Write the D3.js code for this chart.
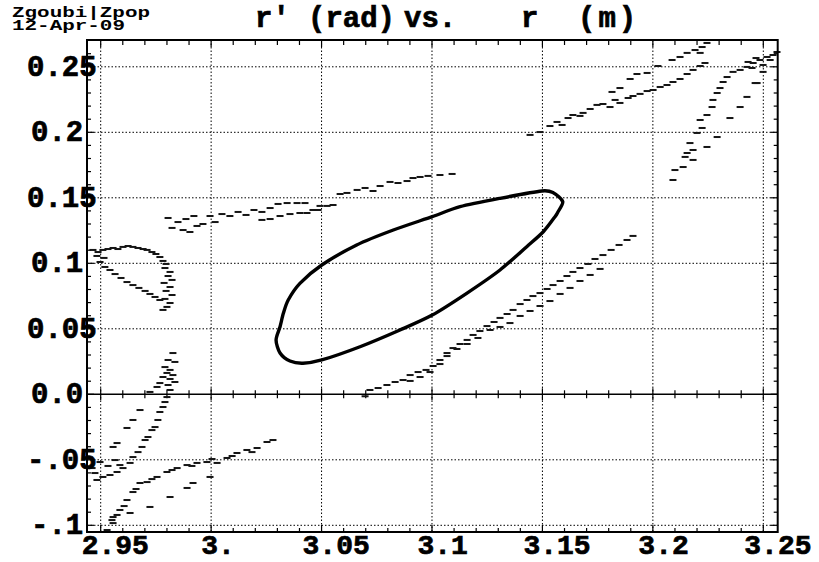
<!DOCTYPE html>
<html>
<head>
<meta charset="utf-8">
<script src="https://cdn.jsdelivr.net/npm/d3@7/dist/d3.min.js"></script>
<style>
  body { margin: 0; background: #fff; }
  svg text { font-family: "Liberation Mono", "Courier New", monospace; font-weight: bold; fill: #000; }
  svg text.heavy { stroke: #000; stroke-width: 0.7; }
</style>
</head>
<body>
<div class="canvas"></div>
<script>
// r (m) and r' (rad) of the closed orbit ellipse
const ellipseR  = [3.0294,3.0312,3.0327,3.0349,3.0402,3.0501,3.0659,3.0825,3.1001,3.1127,3.1308,3.1497,3.1549,3.1592,3.1570,3.1557,3.1504,3.1429,3.1308,3.1157,3.1001,3.0855,3.0674,3.0501,3.0416,3.0357,3.0312];
const ellipseRp = [0.0415,0.0516,0.0618,0.0720,0.0847,0.0987,0.1140,0.1254,0.1356,0.1432,0.1496,0.1552,0.1539,0.1470,0.1392,0.1356,0.1241,0.1127,0.0949,0.0771,0.0605,0.0491,0.0363,0.0262,0.0237,0.0254,0.0315];

// scattered particles, [r, r']
const bandUpperLeft = [[2.9805,0.1346],[2.9823,0.1270],[2.9850,0.1315],[2.9873,0.1254],[2.9886,0.1338],[2.9904,0.1239],[2.9922,0.1361],[2.9936,0.1285],[2.9963,0.1300],[2.9995,0.1361],[3.0018,0.1315],[3.0049,0.1376],[3.0085,0.1361],[3.0122,0.1392],[3.0158,0.1369],[3.0194,0.1407],[3.0230,0.1392],[3.0267,0.1422],[3.0303,0.1453],[3.0344,0.1460],[3.0389,0.1460],[3.0425,0.1460],[3.0461,0.1407],[3.0493,0.1438],[3.0525,0.1438],[3.0552,0.1445],[3.0584,0.1529],[3.0615,0.1537],[3.0661,0.1560],[3.0697,0.1575],[3.0733,0.1552],[3.0765,0.1590],[3.0810,0.1621],[3.0846,0.1613],[3.0887,0.1628],[3.0914,0.1651],[3.0946,0.1659],[3.0982,0.1667],[3.1036,0.1674],[3.1091,0.1682],[3.0230,0.1331],[3.0267,0.1338],[3.0312,0.1361],[3.0357,0.1376],[3.0402,0.1384],[3.0434,0.1384],[3.0484,0.1407]];
const bandLoop = [[2.9465,0.1102],[2.9488,0.1086],[2.9510,0.1102],[2.9533,0.1109],[2.9556,0.1117],[2.9578,0.1109],[2.9601,0.1125],[2.9624,0.1132],[2.9646,0.1125],[2.9669,0.1117],[2.9692,0.1109],[2.9710,0.1102],[2.9732,0.1086],[2.9750,0.1071],[2.9768,0.1048],[2.9782,0.1018],[2.9796,0.0995],[2.9791,0.0964],[2.9814,0.0934],[2.9805,0.0903],[2.9823,0.0873],[2.9787,0.0850],[2.9814,0.0819],[2.9796,0.0789],[2.9823,0.0758],[2.9791,0.0728],[2.9814,0.0697],[2.9800,0.0667],[2.9782,0.0644],[2.9519,0.0972],[2.9542,0.0949],[2.9565,0.0918],[2.9592,0.0888],[2.9619,0.0857],[2.9646,0.0834],[2.9673,0.0812],[2.9701,0.0789],[2.9723,0.0766],[2.9746,0.0743],[2.9768,0.0720],[2.9483,0.1056],[2.9497,0.1010],[2.9515,0.1041]];
const bandLowerLeft = [[2.9827,0.0315],[2.9805,0.0262],[2.9836,0.0247],[2.9791,0.0208],[2.9814,0.0186],[2.9800,0.0163],[2.9827,0.0147],[2.9782,0.0132],[2.9814,0.0117],[2.9836,0.0094],[2.9768,0.0086],[2.9805,0.0071],[2.9755,0.0056],[2.9723,0.0018],[2.9814,0.0033],[2.9800,-0.0021],[2.9791,-0.0059],[2.9782,-0.0097],[2.9768,-0.0135],[2.9759,-0.0196],[2.9746,-0.0250],[2.9732,-0.0273],[2.9714,-0.0326],[2.9701,-0.0349],[2.9687,-0.0402],[2.9669,-0.0441],[2.9646,-0.0479],[2.9633,-0.0524],[2.9601,-0.0563],[2.9574,-0.0593],[2.9542,-0.0616],[2.9510,-0.0631],[2.9483,-0.0654],[2.9474,-0.0601],[2.9678,-0.0120],[2.9646,-0.0196],[2.9619,-0.0257],[2.9574,-0.0372],[2.9556,-0.0402],[2.9497,-0.0517],[2.9533,-0.0547],[2.9461,-0.0563],[2.9565,-0.0502],[2.9587,-0.0540],[2.9529,-0.1036],[2.9556,-0.0983],[2.9574,-0.0921],[2.9587,-0.0883],[2.9619,-0.0807],[2.9646,-0.0746],[2.9678,-0.0677],[2.9710,-0.0670],[2.9755,-0.0631],[2.9800,-0.0593],[2.9846,-0.0563],[2.9891,-0.0540],[2.9936,-0.0524],[2.9981,-0.0517],[3.0027,-0.0524],[3.0072,-0.0486],[3.0117,-0.0448],[3.0162,-0.0425],[3.0208,-0.0410],[3.0253,-0.0364],[3.0280,-0.0349],[2.9551,-0.0960],[2.9606,-0.0853],[2.9660,-0.0723],[2.9732,-0.0647],[2.9823,-0.0578],[2.9913,-0.0547],[3.0004,-0.0494],[3.0095,-0.0471],[3.0185,-0.0441],[2.9556,-0.0937],[2.9633,-0.0906],[2.9723,-0.0860],[2.9814,-0.0784],[2.9891,-0.0715],[2.9918,-0.0677],[2.9995,-0.0631]];
const bandLowerRight = [[3.0719,0.0033],[3.0756,0.0048],[3.0796,0.0071],[3.0833,0.0094],[3.0869,0.0109],[3.0901,0.0147],[3.0937,0.0170],[3.0973,0.0186],[3.1005,0.0216],[3.1036,0.0262],[3.1068,0.0292],[3.1095,0.0353],[3.1127,0.0384],[3.1159,0.0415],[3.1186,0.0453],[3.1217,0.0483],[3.1249,0.0521],[3.1281,0.0552],[3.1308,0.0583],[3.1340,0.0613],[3.1367,0.0644],[3.1399,0.0689],[3.1430,0.0720],[3.1457,0.0750],[3.1489,0.0773],[3.1521,0.0804],[3.1548,0.0834],[3.1580,0.0865],[3.1611,0.0903],[3.1638,0.0934],[3.1670,0.0964],[3.1706,0.0995],[3.1738,0.1033],[3.1774,0.1063],[3.1811,0.1102],[3.1847,0.1140],[3.1883,0.1178],[3.1910,0.1209],[3.0901,0.0102],[3.0946,0.0132],[3.0991,0.0170],[3.1036,0.0231],[3.1068,0.0315],[3.1113,0.0346],[3.1159,0.0384],[3.1208,0.0430],[3.1263,0.0491],[3.1308,0.0514],[3.1353,0.0544],[3.1399,0.0598],[3.1444,0.0636],[3.1489,0.0674],[3.1534,0.0712],[3.1580,0.0766],[3.1625,0.0812],[3.1670,0.0865],[3.1716,0.0911],[3.1761,0.0957],[3.0697,-0.0015]];
const bandUpperRight = [[3.1444,0.1980],[3.1489,0.2002],[3.1534,0.2048],[3.1566,0.2079],[3.1589,0.2056],[3.1616,0.2109],[3.1638,0.2132],[3.1670,0.2125],[3.1684,0.2148],[3.1716,0.2178],[3.1747,0.2209],[3.1774,0.2216],[3.1806,0.2193],[3.1829,0.2247],[3.1851,0.2224],[3.1888,0.2262],[3.1910,0.2277],[3.1942,0.2293],[3.1974,0.2315],[3.2001,0.2323],[3.2033,0.2346],[3.2064,0.2361],[3.2091,0.2384],[3.2123,0.2407],[3.2155,0.2445],[3.2182,0.2476],[3.2214,0.2506],[3.2236,0.2529],[3.1815,0.2308],[3.1851,0.2338],[3.1897,0.2407],[3.1928,0.2445],[3.1974,0.2453],[3.2023,0.2506],[3.2087,0.2552],[3.2123,0.2575],[3.2155,0.2606],[3.2191,0.2628],[3.2214,0.2606],[3.2223,0.2651],[3.2245,0.2682]];
const bandSteep = [[3.2091,0.1636],[3.2100,0.1712],[3.2137,0.1735],[3.2146,0.1812],[3.2155,0.1842],[3.2182,0.1865],[3.2168,0.1918],[3.2200,0.1995],[3.2223,0.2033],[3.2214,0.2094],[3.2245,0.2132],[3.2268,0.2193],[3.2272,0.2247],[3.2291,0.2300],[3.2304,0.2338],[3.2318,0.2384],[3.2336,0.2422],[3.2363,0.2461],[3.2395,0.2476],[3.2426,0.2499],[3.2454,0.2529],[3.2485,0.2552],[3.2517,0.2575],[3.2544,0.2590],[3.2182,0.1789],[3.2245,0.1888],[3.2291,0.1964],[3.2349,0.2109],[3.2395,0.2193],[3.2426,0.2270],[3.2472,0.2376],[3.2499,0.2461],[3.2562,0.2613],[3.2431,0.2537],[3.2449,0.2491],[3.2467,0.2567],[3.2531,0.2552],[3.2499,0.2514],[3.2463,0.2376]];

// axis ticks and labels
const rTicks = [2.95,3.0,3.05,3.1,3.15,3.2,3.25];
const rTickLabels = ["2.95","3.","3.05","3.1","3.15","3.2","3.25"];
const rpTicks = [-0.1,-0.05,0,0.05,0.1,0.15,0.2,0.25];
const rpTickLabels = ["-.1","-.05","0.0","0.05","0.1","0.15","0.2","0.25"];
const rMinor = d3.range(295,326).map(v => v/100);
const rpMinor = d3.range(-10,27).map(v => v/100);

const frame = {left: 87, right: 777.7, top: 40, bottom: 532};

const svg = d3.select('.canvas')
              .append('svg')
              .attr('width', 819)
              .attr('height', 562);

const x = d3.scaleLinear().domain([2.9438, 3.25652]).range([frame.left, frame.right]);
const y = d3.scaleLinear().domain([-0.10511, 0.27046]).range([frame.bottom, frame.top]);

// header, stretched wide like the plotter font
svg.append('text').attr('x', 12).attr('y', 17).attr('font-size', 14)
   .attr('textLength', 138).attr('lengthAdjust', 'spacingAndGlyphs').text('Zgoubi|Zpop');
svg.append('text').attr('x', 12).attr('y', 30).attr('font-size', 14)
   .attr('textLength', 113).attr('lengthAdjust', 'spacingAndGlyphs').text('12-Apr-09');

// title pieces
const titleParts = [["r\u2032", 255], ["(rad)", 308], ["vs.", 404], ["r", 521], ["(m)", 578]];
svg.append('g').selectAll('text').data(titleParts).enter().append('text')
   .attr('class', 'heavy')
   .attr('x', d => d[1]).attr('y', 27)
   .attr('font-size', 29)
   .attr('letter-spacing', d => d[0] === "(m)" ? 3 : 0)
   .text(d => d[0]);

// dotted grid
const grid = svg.append('g').attr('stroke', '#000').attr('stroke-width', 1).attr('stroke-dasharray', '1.5,2');
grid.selectAll('.gx').data(rTicks).enter().append('line')
    .attr('x1', d => x(d)).attr('x2', d => x(d))
    .attr('y1', frame.top).attr('y2', frame.bottom);
grid.selectAll('.gy').data(rpTicks.filter(d => d !== 0)).enter().append('line')
    .attr('y1', d => y(d)).attr('y2', d => y(d))
    .attr('x1', frame.left).attr('x2', frame.right);

const isMajorR = d => rTicks.some(t => Math.abs(t - d) < 1e-6);
const isMajorRp = d => rpTicks.some(t => Math.abs(t - d) < 1e-6);

// r' = 0 line with ticks both ways
const zero = svg.append('g').attr('stroke', '#000');
zero.append('line').attr('x1', frame.left).attr('x2', frame.right)
    .attr('y1', y(0)).attr('y2', y(0)).attr('stroke-width', 1.5);
zero.selectAll('.zt').data(rMinor).enter().append('line')
    .attr('x1', d => x(d)).attr('x2', d => x(d))
    .attr('y1', d => y(0) - (isMajorR(d) ? 6 : 4))
    .attr('y2', d => y(0) + (isMajorR(d) ? 6 : 4))
    .attr('stroke-width', 1.2);

// frame ticks, pointing inwards
const ticks = svg.append('g').attr('stroke', '#000').attr('stroke-width', 1.2);
ticks.selectAll('.tb').data(rMinor).enter().append('line')
     .attr('x1', d => x(d)).attr('x2', d => x(d))
     .attr('y1', frame.bottom).attr('y2', d => frame.bottom - (isMajorR(d) ? 7 : 4));
ticks.selectAll('.tt').data(rMinor).enter().append('line')
     .attr('x1', d => x(d)).attr('x2', d => x(d))
     .attr('y1', frame.top).attr('y2', d => frame.top + (isMajorR(d) ? 7 : 5));
ticks.selectAll('.tl').data(rpMinor).enter().append('line')
     .attr('y1', d => y(d)).attr('y2', d => y(d))
     .attr('x1', frame.left).attr('x2', d => frame.left + (isMajorRp(d) ? 7 : 4));
ticks.selectAll('.tr').data(rpMinor).enter().append('line')
     .attr('y1', d => y(d)).attr('y2', d => y(d))
     .attr('x1', frame.right).attr('x2', d => frame.right - (isMajorRp(d) ? 7 : 4));

// particles drawn as short dashes
const bands = [bandUpperLeft, bandLoop, bandLowerLeft, bandLowerRight, bandUpperRight, bandSteep];
const dots = svg.append('g').attr('fill', '#151515');
bands.forEach(band => {
  dots.selectAll(null).data(band).enter().append('rect')
      .attr('x', d => x(d[0]) - 3.5)
      .attr('y', d => y(d[1]) - 1)
      .attr('width', 7)
      .attr('height', 2);
});

// ellipse
const ellipse = ellipseR.map((r, i) => [r, ellipseRp[i]]);
const line = d3.line().x(d => x(d[0])).y(d => y(d[1])).curve(d3.curveCardinalClosed.tension(0.2));
svg.append('path')
   .attr('d', line(ellipse))
   .attr('fill', 'none')
   .attr('stroke', '#000')
   .attr('stroke-width', 3.4);

// frame
svg.append('rect')
   .attr('x', frame.left).attr('y', frame.top)
   .attr('width', frame.right - frame.left).attr('height', frame.bottom - frame.top)
   .attr('fill', 'none').attr('stroke', '#000').attr('stroke-width', 2);

// tick labels
svg.append('g').selectAll('text').data(rTicks).enter().append('text')
   .attr('class', 'heavy')
   .attr('x', (d, i) => x(d) - 4.5 * rTickLabels[i].length - 1)
   .attr('y', 554)
   .attr('font-size', 28)
   .text((d, i) => rTickLabels[i]);
svg.append('g').selectAll('text').data(rpTicks).enter().append('text')
   .attr('class', 'heavy')
   .attr('x', (d, i) => rpTickLabels[i].length === 4 ? 27 : 31)
   .attr('y', d => y(d) + 9)
   .attr('font-size', 29)
   .text((d, i) => rpTickLabels[i]);
</script>
</body>
</html>
